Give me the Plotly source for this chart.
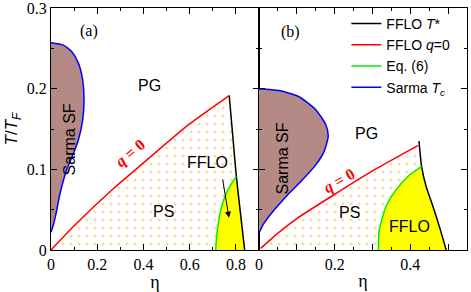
import plotly.graph_objects as go

# ---------------- Panel (a) data ----------------
a_sarma_eta = [0.0, 0.053, 0.089, 0.118, 0.137, 0.143, 0.137, 0.118, 0.095, 0.068, 0.039, 0.022, 0.009, 0.0]
a_sarma_T   = [0.257, 0.254, 0.246, 0.232, 0.211, 0.186, 0.161, 0.136, 0.118, 0.0996, 0.070, 0.0455, 0.030, 0.022]

a_red_eta = [0.0, 0.1, 0.267, 0.4, 0.598, 0.771]
a_red_T   = [0.0, 0.030, 0.0753, 0.108, 0.156, 0.1915]

a_black_eta = [0.771, 0.788, 0.802, 0.82, 0.838]
a_black_T   = [0.1915, 0.1365, 0.091, 0.045, 0.0]

a_green_eta = [0.713, 0.716, 0.723, 0.735, 0.755, 0.778, 0.802]
a_green_T   = [0.0, 0.015, 0.031, 0.05, 0.068, 0.081, 0.091]

# ---------------- Panel (b) data ----------------
b_sarma_eta = [0.0, 0.053, 0.106, 0.150, 0.177, 0.183, 0.172, 0.150, 0.115, 0.075, 0.040, 0.013, 0.0]
b_sarma_T   = [0.2, 0.1977, 0.190, 0.174, 0.155, 0.141, 0.122, 0.1055, 0.087, 0.068, 0.0496, 0.033, 0.021]

b_red_eta = [0.0045, 0.05, 0.1, 0.2, 0.3, 0.42]
b_red_T   = [0.002, 0.021, 0.039, 0.069, 0.098, 0.1294]

b_black_eta = [0.423, 0.43, 0.442, 0.46, 0.477, 0.495]
b_black_T   = [0.135, 0.1034, 0.0786, 0.054, 0.029, 0.0]

b_green_eta = [0.316, 0.318, 0.336, 0.362, 0.398, 0.43]
b_green_T   = [0.0, 0.025, 0.054, 0.0745, 0.093, 0.1034]

# tick labels
a_xtick_vals = [0, 0.2, 0.4, 0.6, 0.8]
a_xtick_text = ["0", "0.2", "0.4", "0.6", "0.8"]
b_xtick_vals = [0, 0.1, 0.2, 0.3, 0.4, 0.5]
b_xtick_text = ["0", "", "0.2", "", "0.4", ""]
ytick_vals = [0, 0.1, 0.2, 0.3]
ytick_text = ["0", "0.1", "0.2", "0.3"]

BROWN = "#b48a86"
SERIF = "Liberation Serif, Times New Roman, serif"
SANS = "Liberation Sans, Arial, sans-serif"

fig = go.Figure()


def add_panel(xa, ya, s_eta, s_T, r_eta, r_T, k_eta, k_T, g_eta, g_T, show):
    jT = g_T[-1]
    # PS region (dotted)
    kb_up = [(e, t) for e, t in zip(k_eta, k_T) if jT <= t <= r_T[-1]]
    ps_x = list(r_eta) + [e for e, _ in kb_up] + list(reversed(g_eta)) + [r_eta[0]]
    ps_y = list(r_T) + [t for _, t in kb_up] + list(reversed(g_T)) + [0.0]
    fig.add_trace(go.Scatter(x=ps_x, y=ps_y, xaxis=xa, yaxis=ya, mode="lines",
                             line=dict(width=0), fill="toself", fillcolor="rgba(0,0,0,0)",
                             fillpattern=dict(shape=".", fgcolor="#ffb040", bgcolor="rgba(255,255,255,0)",
                                              size=8, solidity=0.1),
                             showlegend=False, hoverinfo="skip"))
    # FFLO region (yellow)
    kb_low = [(e, t) for e, t in zip(k_eta, k_T) if t <= jT]
    y_x = list(g_eta) + [e for e, _ in kb_low]
    y_y = list(g_T) + [t for _, t in kb_low]
    fig.add_trace(go.Scatter(x=y_x, y=y_y, xaxis=xa, yaxis=ya, mode="lines",
                             line=dict(width=0, shape="spline", smoothing=0.6), fill="toself",
                             fillcolor="#ffff00", showlegend=False, hoverinfo="skip"))
    # Sarma region
    fig.add_trace(go.Scatter(x=s_eta, y=s_T, xaxis=xa, yaxis=ya, mode="lines",
                             line=dict(width=0, shape="spline", smoothing=0.6), fill="toself",
                             fillcolor=BROWN, showlegend=False, hoverinfo="skip"))
    # lines
    fig.add_trace(go.Scatter(x=k_eta, y=k_T, xaxis=xa, yaxis=ya, mode="lines",
                             line=dict(color="black", width=1.5, shape="spline", smoothing=0.6),
                             name="FFLO <i>T</i>*", legendgroup="k", showlegend=show))
    fig.add_trace(go.Scatter(x=r_eta, y=r_T, xaxis=xa, yaxis=ya, mode="lines",
                             line=dict(color="#ff0000", width=1.5, shape="spline", smoothing=0.6),
                             name="FFLO <i>q</i>=0", legendgroup="r", showlegend=show))
    fig.add_trace(go.Scatter(x=g_eta, y=g_T, xaxis=xa, yaxis=ya, mode="lines",
                             line=dict(color="#00ee00", width=1.5, shape="spline", smoothing=0.6),
                             name="Eq. (6)", legendgroup="g", showlegend=show))
    fig.add_trace(go.Scatter(x=s_eta, y=s_T, xaxis=xa, yaxis=ya, mode="lines",
                             line=dict(color="#0000ff", width=1.5, shape="spline", smoothing=0.6),
                             name="Sarma <i>T<sub>c</sub></i>", legendgroup="s", showlegend=show))


add_panel("x", "y", a_sarma_eta, a_sarma_T, a_red_eta, a_red_T, a_black_eta, a_black_T,
          a_green_eta, a_green_T, False)
add_panel("x2", "y2", b_sarma_eta, b_sarma_T, b_red_eta, b_red_T, b_black_eta, b_black_T,
          b_green_eta, b_green_T, True)

axis_common = dict(showline=True, linecolor="black", linewidth=1.2, mirror="ticks",
                   ticks="inside", tickcolor="black", tickwidth=1, showgrid=False, zeroline=False,
                   automargin=False, ticklabeloverflow="allow",
                   tickfont=dict(family=SERIF, size=16, color="black"))

fig.update_layout(
    width=471, height=292,
    margin=dict(l=51, r=4, t=8, b=42),
    paper_bgcolor="white", plot_bgcolor="white",
    xaxis=dict(domain=[0, 0.5], range=[0, 0.9], anchor="y",
               tickmode="array", tickvals=a_xtick_vals, ticktext=a_xtick_text, ticklen=6,
               minor=dict(dtick=0.1, ticklen=3, ticks="inside", tickcolor="black"),
               title=dict(text="η", font=dict(family=SERIF, size=18, color="black"), standoff=2),
               **axis_common),
    xaxis2=dict(domain=[0.5, 1], range=[0, 0.55], anchor="y2",
                tickmode="array", tickvals=b_xtick_vals, ticktext=b_xtick_text, ticklen=6,
                minor=dict(dtick=0.05, ticklen=3, ticks="inside", tickcolor="black"),
                title=dict(text="η", font=dict(family=SERIF, size=18, color="black"), standoff=2),
                **axis_common),
    yaxis=dict(domain=[0, 1], range=[0, 0.3], anchor="x",
               tickmode="array", tickvals=ytick_vals, ticktext=ytick_text, ticklen=6,
               minor=dict(dtick=0.05, ticklen=3, ticks="inside", tickcolor="black"),
               title=dict(text="<i>T</i>/<i>T<sub>F</sub></i>", font=dict(family=SANS, size=17, color="black"),
                          standoff=4),
               **axis_common),
    yaxis2=dict(domain=[0, 1], range=[0, 0.3], anchor="x2", matches="y", showticklabels=False,
                tickmode="array", tickvals=ytick_vals, ticktext=ytick_text, ticklen=6,
                minor=dict(dtick=0.05, ticklen=3, ticks="inside", tickcolor="black"),
                **axis_common),
    legend=dict(x=0.71, y=1.0, xanchor="left", yanchor="top", bgcolor="rgba(0,0,0,0)",
                font=dict(family=SANS, size=14, color="black"), traceorder="normal"),
    showlegend=True,
)

def txt(xr, yr, x, y, text, size=16, family=SANS, color="black", angle=0):
    fig.add_annotation(xref=xr, yref=yr, x=x, y=y, text=text, showarrow=False,
                       font=dict(family=family, size=size, color=color), textangle=angle)

# Panel (a) labels
txt("x", "y", 0.165, 0.272, "(a)", family=SERIF)
txt("x", "y", 0.425, 0.204, "PG")
txt("x", "y", 0.082, 0.137, "Sarma SF", angle=-90)
txt("x", "y", 0.345, 0.12, "<b><i>q</i> = 0</b>", family=SERIF, color="#ff0000", angle=-40)
txt("x", "y", 0.485, 0.048, "PS")
txt("x", "y", 0.677, 0.108, "FFLO")
fig.add_annotation(xref="x", yref="y", axref="x", ayref="y", x=0.77, y=0.04, ax=0.742, ay=0.089,
                   text="", showarrow=True, arrowhead=2, arrowsize=1.2, arrowwidth=1, arrowcolor="black")

# Panel (b) labels
txt("x2", "y2", 0.084, 0.27, "(b)", family=SERIF)
txt("x2", "y2", 0.285, 0.145, "PG")
txt("x2", "y2", 0.062, 0.114, "Sarma SF", angle=-90)
txt("x2", "y2", 0.212, 0.085, "<b><i>q</i> = 0</b>", family=SERIF, color="#ff0000", angle=-30)
txt("x2", "y2", 0.239, 0.046, "PS")
txt("x2", "y2", 0.398, 0.029, "FFLO")

fig.write_html("out.html", config={"displayModeBar": False},
               post_script="document.body.style.margin='0';document.body.style.overflow='hidden';")
